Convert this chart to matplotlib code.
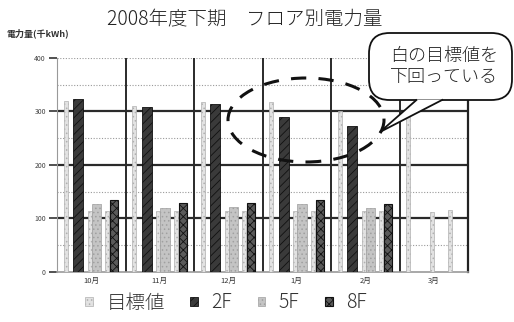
import numpy as np
import matplotlib
matplotlib.use("Agg")
import matplotlib.pyplot as plt
from matplotlib.patches import Patch, FancyBboxPatch, Ellipse, Polygon

plt.rcParams['font.family'] = ['Noto Sans CJK JP', 'DejaVu Sans']
plt.rcParams['hatch.linewidth'] = 0.6

months = ["10月", "11月", "12月", "1月", "2月", "3月"]
target_2f = [319, 311, 317, 318, 300, 305]
actual_2f = [323, 308, 314, 290, 272, np.nan]
target_5f = [113, 113, 113, 113, 113, 112]
actual_5f = [126, 119, 121, 127, 119, np.nan]
target_8f = [114, 114, 114, 114, 114, 116]
actual_8f = [134, 129, 129, 135, 127, np.nan]

title = "2008年度下期　フロア別電力量"
ylabel = "電力量(千kWh)"
legend_labels = ["目標値", "2F", "5F", "8F"]
callout_lines = ["白の目標値を", "下回っている"]

W, H = 514, 322
fig = plt.figure(figsize=(W / 100, H / 100), dpi=100)
ax = fig.add_axes([57 / W, 1 - 271.7 / H, 411 / W, (271.7 - 58) / H])

x = np.arange(len(months))

# bar styles
st_target = dict(facecolor="#e2e2e2", edgecolor="#b0b0b0", hatch="....", linewidth=0.5)
st_2f = dict(facecolor="#3a3a3a", edgecolor="#111111", hatch="////", linewidth=0.6)
st_5f = dict(facecolor="#c4c4c4", edgecolor="#a0a0a0", hatch="....", linewidth=0.5)
st_8f = dict(facecolor="#5a5a5a", edgecolor="#111111", hatch="xxxx", linewidth=0.8)

series = [
    (target_2f, -0.372, 0.06, st_target),
    (actual_2f, -0.19, 0.14, st_2f),
    (target_5f, -0.02, 0.06, st_target),
    (actual_5f, 0.075, 0.14, st_5f),
    (target_8f, 0.234, 0.06, st_target),
    (actual_8f, 0.335, 0.12, st_8f),
]
for vals, off, w, st in series:
    ax.bar(x + off, vals, width=w, zorder=3, **st)

ax.set_xlim(-0.5, len(months) - 0.5)
ax.set_ylim(0, 400)

# grid: solid at the hundreds, dotted in between
for yv in [100, 200, 300]:
    ax.axhline(yv, color="#2a2a2a", lw=1.6, zorder=1)
for yv in [50, 150, 250, 350, 400]:
    ax.axhline(yv, color="#9a9a9a", lw=0.8, ls=(0, (1, 1.5)), zorder=1)
for xv in np.arange(0.5, len(months) - 0.5, 1):
    ax.axvline(xv, color="#2a2a2a", lw=1.4, zorder=1)

ax.spines["top"].set_visible(False)
ax.spines["right"].set_color("#222222")
ax.spines["right"].set_linewidth(1.6)
ax.spines["left"].set_color("#999999")
ax.spines["left"].set_linestyle((0, (1, 1)))
ax.spines["bottom"].set_color("#999999")
ax.spines["bottom"].set_linewidth(1.2)

ax.set_yticks([0, 100, 200, 300, 400])
ax.set_yticklabels(["0", "100", "200", "300", "400"], fontsize=5, color="#444444")
ax.tick_params(axis="y", length=6, width=1.2, color="#333333", pad=2)
ax.set_xticks(x)
ax.set_xticklabels(months, fontsize=5.5, color="#333333")
ax.tick_params(axis="x", length=0, pad=4)

fig.text(245 / W, 1 - 20 / H, title, ha="center", va="center", fontsize=14,
         fontweight="light", color="#222222")
fig.text(6 / W, 1 - 33 / H, ylabel, ha="left", va="center", fontsize=6.5,
         fontweight="bold", color="#333333")

# legend
handles = [Patch(**st_target), Patch(**st_2f), Patch(**st_5f), Patch(**st_8f)]
fig.legend(handles, legend_labels, loc="center", bbox_to_anchor=(226 / W, 1 - 303 / H),
           ncol=4, frameon=False, prop=dict(size=14, weight="light"),
           handlelength=0.4, handleheight=0.4,
           handletextpad=0.7, columnspacing=1.3, labelcolor="#333333")

# dashed ellipse around the months below target
ell = Ellipse((306 / W, 1 - 120 / H), 156 / W, 84 / H, transform=fig.transFigure,
              fill=False, edgecolor="#111111", lw=2.2, ls=(0, (5, 4)), zorder=10)
fig.add_artist(ell)

# callout balloon
box = FancyBboxPatch((369 / W, 1 - 100 / H), 143 / W, 67 / H,
                     boxstyle="round,pad=0,rounding_size=0.04",
                     transform=fig.transFigure, facecolor="white", edgecolor="#111111",
                     lw=1.3, zorder=11, mutation_aspect=W / H)
fig.add_artist(box)
tail = Polygon([(417 / W, 1 - 99.5 / H), (380 / W, 1 - 132 / H), (443 / W, 1 - 99.5 / H)],
               closed=False, transform=fig.transFigure, facecolor="white",
               edgecolor="#111111", lw=1.3, zorder=12)
fig.add_artist(tail)
fig.text(444 / W, 1 - 56 / H, callout_lines[0], ha="center", va="center", fontsize=13,
         fontweight="light", color="#222222", zorder=13)
fig.text(444 / W, 1 - 77 / H, callout_lines[1], ha="center", va="center", fontsize=13,
         fontweight="light", color="#222222", zorder=13)

fig.savefig("out.png", dpi=100, facecolor="white")
